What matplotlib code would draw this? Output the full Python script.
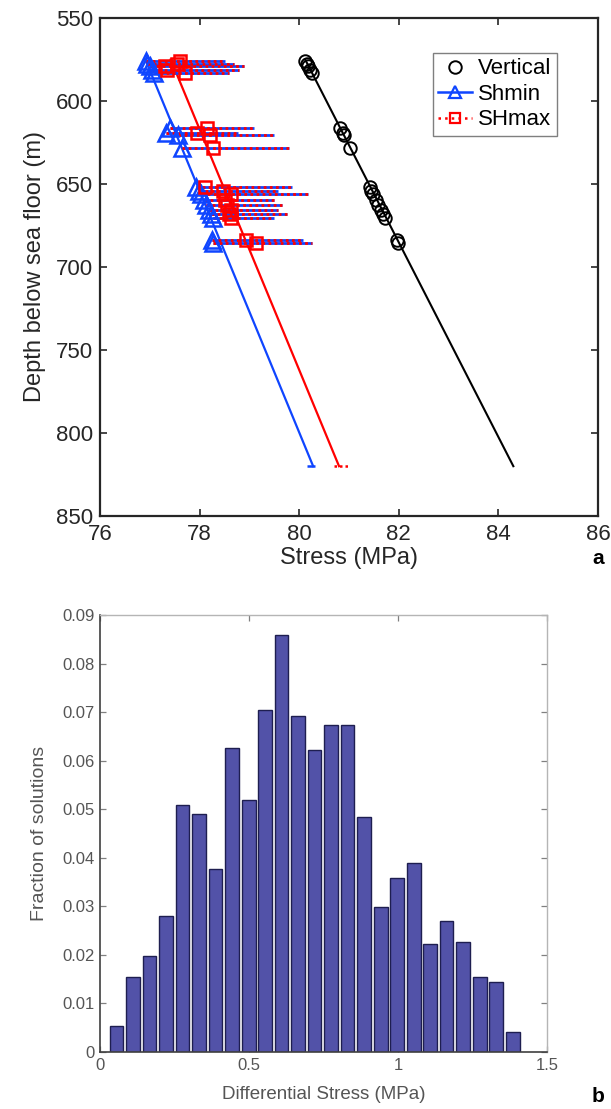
import matplotlib
matplotlib.use("Agg")
import matplotlib.pyplot as plt
from matplotlib.lines import Line2D

plt.rcParams['font.family'] = ['Liberation Sans', 'DejaVu Sans']

# ---------------- panel a data ----------------
depth = [576, 577.5, 579, 581.5, 583, 616, 619, 620.5, 628.5,
         652, 654, 656, 659.5, 662.5, 665.5, 668, 670.5, 684, 685.5]
sv = [80.12, 80.15, 80.17, 80.22, 80.25, 80.82, 80.87, 80.90, 81.03,
      81.42, 81.45, 81.48, 81.54, 81.59, 81.64, 81.68, 81.72, 81.96, 81.98]
shmin = [76.92, 76.95, 77.00, 77.05, 77.08, 77.40, 77.33, 77.57, 77.65,
         77.93, 77.98, 78.02, 78.08, 78.12, 78.18, 78.22, 78.26, 78.24, 78.26]
shmax = [77.60, 77.55, 77.30, 77.35, 77.70, 78.14, 77.94, 78.20, 78.27,
         78.10, 78.47, 78.64, 78.50, 78.55, 78.64, 78.60, 78.64, 78.94, 79.13]
upper = [78.50, 78.70, 78.90, 78.80, 78.60, 79.10, 78.77, 79.50, 79.80,
         79.85, 79.57, 80.18, 79.50, 79.65, 79.57, 79.75, 79.50, 80.08, 80.25]

trend_depth = [575, 820]
sv_trend = [80.12, 84.30]
shmin_trend = [76.91, 80.28]
shmax_trend = [77.42, 80.80]
end_depth = 820
shmin_end_bar = [80.15, 80.32]
shmax_end_bar = [80.70, 80.97]

# ---------------- panel b data ----------------
bin_centers = [0.055, 0.111, 0.166, 0.222, 0.277, 0.332, 0.388, 0.443, 0.499,
               0.554, 0.609, 0.665, 0.720, 0.776, 0.831, 0.886, 0.942, 0.997,
               1.053, 1.108, 1.163, 1.219, 1.274, 1.330, 1.385]
fractions = [0.0054, 0.0155, 0.0198, 0.0281, 0.0508, 0.0490, 0.0377, 0.0627,
             0.0519, 0.0705, 0.0858, 0.0692, 0.0621, 0.0674, 0.0674, 0.0483,
             0.0299, 0.0358, 0.0389, 0.0222, 0.0269, 0.0227, 0.0155, 0.0145,
             0.0042]

W, H = 611, 1109
fig = plt.figure(figsize=(W / 100, H / 100), dpi=100)

BLUE = '#0f45ff'
RED = '#ff0000'
DARK = '#262626'

# ---------------- panel a ----------------
ax = fig.add_axes([100 / W, 1 - 516 / H, 498 / W, 498 / H])
ax.plot(sv_trend, trend_depth, color='black', lw=1.5, zorder=2)
ax.plot(shmin_trend, trend_depth, color=BLUE, lw=1.6, zorder=2)
ax.plot(shmax_trend, trend_depth, color=RED, lw=1.6, zorder=2)

ax.hlines(depth, shmin, upper, colors=BLUE, lw=2.0, zorder=3)
ax.hlines(depth, shmin, upper, colors=RED, lw=2.0, linestyles=(0, (1, 1.2)), zorder=4)
ax.hlines([end_depth], [shmin_end_bar[0]], [shmin_end_bar[1]], colors=BLUE, lw=1.8, zorder=3)
ax.hlines([end_depth], [shmax_end_bar[0]], [shmax_end_bar[1]], colors=RED, lw=1.8,
          linestyles=(0, (1, 1.2)), zorder=4)

ax.plot(sv, depth, 'o', mfc='none', mec='black', ms=9, mew=1.4, zorder=5)
ax.plot(shmin, depth, '^', mfc='none', mec=BLUE, ms=12, mew=1.8, zorder=5)
ax.plot(shmax, depth, 's', mfc='none', mec=RED, ms=8, mew=1.8, zorder=5)

ax.set_xlim(76, 86)
ax.set_ylim(850, 550)
ax.set_xticks([76, 78, 80, 82, 84, 86])
ax.set_yticks([550, 600, 650, 700, 750, 800, 850])
ax.tick_params(direction='in', length=5, width=1.2, top=True, right=True,
               labelsize=16, colors=DARK)
ax.tick_params(axis='x', pad=6)
ax.tick_params(axis='y', pad=5)
for s in ax.spines.values():
    s.set_color(DARK)
    s.set_linewidth(1.6)
ax.set_xlabel('Stress (MPa)', fontsize=17, color=DARK, labelpad=1)
ax.set_ylabel('Depth below sea floor (m)', fontsize=17, color=DARK, labelpad=7)

handles = [
    Line2D([], [], ls='none', marker='o', mfc='none', mec='black', ms=9, mew=1.4),
    Line2D([], [], ls='-', color=BLUE, lw=1.8, marker='^', mfc='none', mec=BLUE, ms=9, mew=1.6),
    Line2D([], [], ls=':', color=RED, lw=1.8, marker='s', mfc='none', mec=RED, ms=7, mew=1.6),
]
leg = ax.legend(handles, ['Vertical', 'Shmin', 'SHmax'], loc='upper right',
                bbox_to_anchor=(0.918, 0.93), fontsize=16, frameon=True,
                fancybox=False, framealpha=1, edgecolor='#7f7f7f',
                handlelength=1.5, handletextpad=0.3, borderpad=0.25,
                labelspacing=0.2, borderaxespad=0)
leg.get_frame().set_linewidth(1.0)

fig.text(598 / W, 1 - 559 / H, 'a', fontsize=15, fontweight='bold',
         ha='center', va='center', color='black')

# ---------------- panel b ----------------
GRAY = '#555555'
bx = fig.add_axes([100 / W, 1 - 1052 / H, 447 / W, 437 / H])
bx.bar(bin_centers, fractions, width=0.046, color='#5252a8',
       edgecolor='#1e1e50', linewidth=1.0, zorder=2)
bx.set_xlim(0, 1.5)
bx.set_ylim(0, 0.09)
bx.set_xticks([0, 0.5, 1, 1.5])
bx.set_xticklabels(['0', '0.5', '1', '1.5'])
bx.set_yticks([0, 0.01, 0.02, 0.03, 0.04, 0.05, 0.06, 0.07, 0.08, 0.09])
bx.set_yticklabels(['0', '0.01', '0.02', '0.03', '0.04', '0.05', '0.06',
                    '0.07', '0.08', '0.09'])
bx.tick_params(direction='in', length=4, width=0.9, top=True, right=True,
               labelsize=12, colors=GRAY, pad=4)
bx.tick_params(axis='both', color='#808080')
for side in ['left', 'bottom']:
    bx.spines[side].set_color('#404040')
    bx.spines[side].set_linewidth(1.2)
for side in ['top', 'right']:
    bx.spines[side].set_color('#b5b5b5')
    bx.spines[side].set_linewidth(1.0)
bx.set_xlabel('Differential Stress (MPa)', fontsize=13.5, color=GRAY, labelpad=10)
bx.set_ylabel('Fraction of solutions', fontsize=14, color=GRAY, labelpad=10)

fig.text(598 / W, 1 - 1096 / H, 'b', fontsize=15, fontweight='bold',
         ha='center', va='center', color='black')

fig.savefig('out.png', dpi=100)
